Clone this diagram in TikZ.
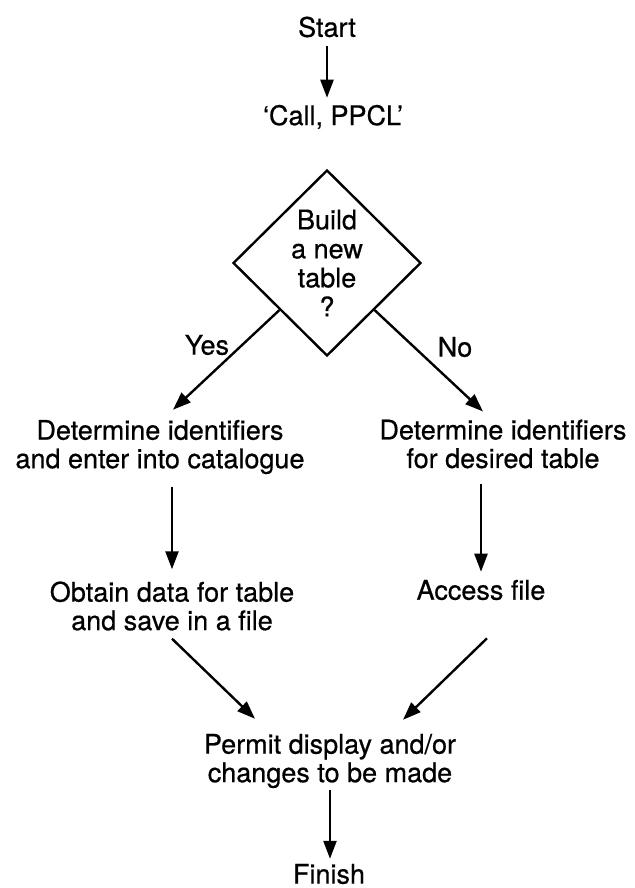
\documentclass[tikz,border=0pt]{standalone}
\usepackage{fontspec}
\setmainfont[FakeBold=0.6]{TeX Gyre Heros}
\usetikzlibrary{arrows.meta,shapes.geometric,calc}
\begin{document}
\begin{tikzpicture}[x=1pt,y=-1pt,
  txt/.style={inner sep=0pt, align=center, font=\fontsize{27pt}{28.5pt}\selectfont},
  arr/.style={line width=2.4pt, -{Triangle[length=18pt,width=13pt]}},
  dec/.style={draw, diamond, line width=2.4pt, minimum width=188pt, minimum height=186pt,
    inner sep=0pt, align=center, font=\fontsize{27pt}{29pt}\selectfont}]
\useasboundingbox (0,0) rectangle (634,888);
\node[txt] (start) at (327,27) {Start};
\node[txt] (call) at (333,117) {‘Call, PPCL’};
\node[dec] (dec) at (327,263) {Build\\a new\\table\\?};
\node[txt] (yes) at (207,345) {Yes};
\node[txt] (no) at (455,347) {No};
\node[txt] (L1) at (160,447) {Determine identifiers\\and enter into catalogue};
\node[txt] (R1) at (503,444) {Determine identifiers\\for desired table};
\node[txt] (L2) at (172,606) {Obtain data for table\\and save in a file};
\node[txt] (R2) at (481,590) {Access file};
\node[txt] (P) at (330,761) {Permit display and/or\\changes to be made};
\node[txt] (F) at (329,874) {Finish};

\draw[arr, shorten <=8pt, shorten >=7pt] (start.south) -- (start.south |- call.north);
\draw[arr] (dec.south west) -- ([xshift=13pt,yshift=10pt]L1.north);
\draw[arr] (dec.south east) -- ([xshift=-20pt,yshift=8pt]R1.north);
\draw[arr, shorten <=13pt, shorten >=12pt] (L1.south -| L2.north) -- (L2.north);
\draw[arr, shorten <=15pt, shorten >=8pt] (R1.south -| R2.north) -- (R2.north);
\draw[arr] ([yshift=-8pt]L2.south) -- ([xshift=-75pt,yshift=15pt]P.north);
\draw[arr] ([xshift=6pt,yshift=-38pt]R2.south) -- ([xshift=73pt,yshift=14pt]P.north);
\draw[arr, shorten <=2pt, shorten >=5pt] (P.south) -- (P.south |- F.north);
\end{tikzpicture}
\end{document}
